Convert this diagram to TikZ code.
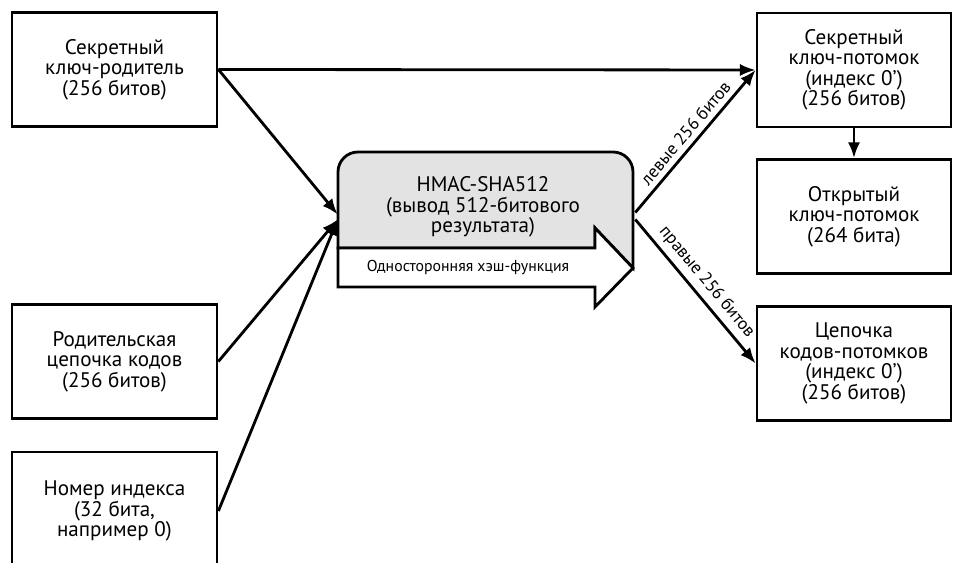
\documentclass[tikz,border=0pt]{standalone}
\usepackage{fontspec}
\setmainfont{PT Sans}
\usetikzlibrary{arrows.meta,calc}

\begin{document}
\begin{tikzpicture}[x=0.02cm, y=0.02cm,
        box/.style={rectangle, draw, line width=1.6pt, minimum width=4.1cm, minimum height=2.28cm, align=center, font=\fontsize{12}{11.6}\selectfont},
        arr/.style={line width=1.6pt, -{Latex[length=9pt, width=7pt]}},
        lbl/.style={font=\fontsize{10}{11}\selectfont, sloped, above, inner sep=3pt}]
    \useasboundingbox (0,0) rectangle (954,563);

    % Input boxes
    \node[box] (pkey) at (114.5,493.5) {Секретный\\ключ-родитель\\(256 битов)};
    \node[box] (pchain) at (114.5,201.5) {Родительская\\цепочка кодов\\(256 битов)};
    \node[box, minimum height=2.36cm] (idx) at (114.5,52) {Номер индекса\\(32 бита,\\например 0)};

    % Output boxes
    \node[box, minimum width=3.88cm] (ckey) at (854,493) {Секретный\\ключ-потомок\\(индекс 0')\\(256 битов)};
    \node[box, minimum width=3.88cm] (cpub) at (854,346.5) {Открытый\\ключ-потомок\\(264 бита)};
    \node[box, minimum width=3.88cm] (cchain) at (854,199.5) {Цепочка\\кодов-потомков\\(индекс 0')\\(256 битов)};

    % HMAC block with one-way arrow
    \draw[line width=1.6pt, fill=gray!22] (338,315) -- (338,391) arc (180:90:20) -- (613,411) arc (90:0:20)
        -- (633,295) -- (595,335) -- (595,315) -- cycle;
    \draw[line width=1.6pt, fill=white] (338,315) -- (595,315) -- (595,335) -- (633,295)
        -- (595,256) -- (595,276) -- (338,276) -- cycle;
    \node[minimum width=5.9cm, minimum height=2.7cm] (hmac) at (485.5,343.5) {};
    \node[align=center, font=\fontsize{12}{11.6}\selectfont] (hmactxt) at (483,356) {HMAC-SHA512\\(вывод 512-битового\\результата)};
    \node[font=\fontsize{9}{10}\selectfont] (oneway) at (468,295) {Односторонняя хэш-функция};

    % Connections
    \draw[arr] (pkey.east) -- (ckey.west);
    \draw[arr] (pkey.east) -- ($(hmac.west)+(0,5)$);
    \foreach \src in {pchain, idx}
        \draw[arr] (\src.east) -- ($(hmac.west)+(0,0)$);
    \draw[arr] ($(hmac.east)+(2,7)$) -- node[lbl] {левые 256 битов} (ckey.west);
    \draw[arr] ($(hmac.east)+(2,0)$) -- node[lbl] {правые 256 битов} (cchain.west);
    \draw[arr] (ckey.south) -- (cpub.north);
\end{tikzpicture}
\end{document}
